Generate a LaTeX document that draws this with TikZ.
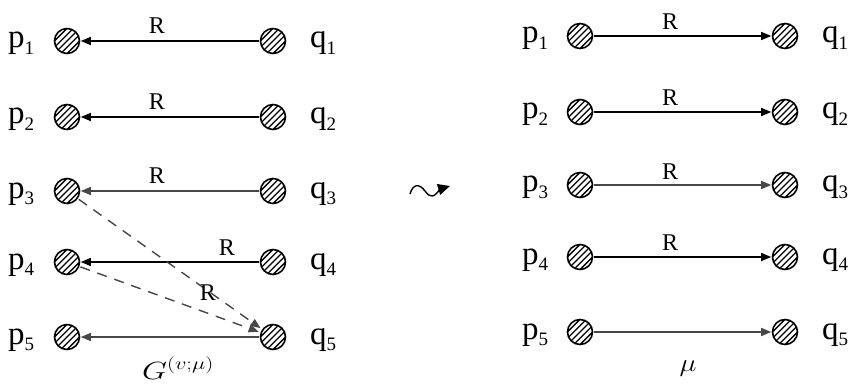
\documentclass[tikz,border=0pt]{standalone}
\usepackage{fontspec}
\setmainfont{Liberation Serif}
\usetikzlibrary{arrows.meta}
\newcommand\idx[1]{\raisebox{-0.2em}{\fontsize{19}{19}\selectfont#1}}
\tikzset{
  x=1pt, y=-1pt,
  dot/.style={circle, draw, line width=1.6pt, minimum size=25pt, inner sep=0pt,
    path picture={\foreach \k in {-3,...,3}{\draw[line width=1.3pt]
      ([shift={(\k*6.3pt-16pt,-16pt)}]path picture bounding box.center) -- ++(32pt,32pt);}}},
  vlab/.style={font=\fontsize{33}{33}\selectfont, inner sep=0pt, anchor=base west},
  rlab/.style={font=\fontsize{24}{24}\selectfont, inner sep=0pt, anchor=base},
  tip/.style={-{Triangle[length=10pt,width=8pt]}},
  link/.style={tip, line width=1.4pt, shorten >=0.5pt, shorten <=0.5pt},
  weak/.style={link, draw=black!72},
  dashlink/.style={tip, line width=1.4pt, draw=black!72, dash pattern=on 10pt off 8pt, shorten >=2pt, shorten <=1pt},
}
\begin{document}
\begin{tikzpicture}
\useasboundingbox (0,0) rectangle (852,385);

% left graph G^{(v;mu)}
\foreach \i/\y in {1/41,2/117,3/191,4/262,5/337}{
  \node[dot] (lp\i) at (67,\y) {};
  \node[dot] (lq\i) at (273,\y) {};
  \node[vlab] (lpl\i) at (8,\y+7) {p\idx{\i}};
  \node[vlab] (lql\i) at (310,\y+7) {q\idx{\i}};
}
\draw[link] (lq1) -- (lp1);
\draw[link] (lq2) -- (lp2);
\draw[weak] (lq3) -- (lp3);
\draw[link] (lq4) -- (lp4);
\draw[weak] (lq5) -- (lp5);
\draw[dashlink] (lp3) -- (lq5);
\draw[dashlink] (lp4) -- (lq5);
\node[rlab] (lr1) at (157,34) {R};
\node[rlab] (lr2) at (157,110) {R};
\node[rlab] (lr3) at (157,184) {R};
\node[rlab] (lr4) at (227,255) {R};
\node[rlab] (lrd) at (208,300) {R};
\node[inner sep=0pt, anchor=base] (gname) at (178,379)
  {\scalebox{1.3}[1]{\fontsize{27}{27}\selectfont$G^{(v;\mu)}$}};

% wavy transition arrow
\coordinate (w0) at (410,194);
\coordinate (w1) at (450,186);
\draw[line width=1.4pt, -{Triangle[length=12pt,width=11pt]}]
  (w0) .. controls (413,184) and (419,183) .. (425,191)
       .. controls (430,198) and (434,198) .. (440,189) -- (w1);

% right matching mu
\foreach \i/\y in {1/36,2/112,3/185,4/257,5/332}{
  \node[dot] (rp\i) at (580,\y) {};
  \node[dot] (rq\i) at (785,\y) {};
  \node[vlab] (rpl\i) at (522,\y+7) {p\idx{\i}};
  \node[vlab] (rql\i) at (822,\y+7) {q\idx{\i}};
}
\draw[link] (rp1) -- (rq1);
\draw[link] (rp2) -- (rq2);
\draw[weak] (rp3) -- (rq3);
\draw[link] (rp4) -- (rq4);
\draw[weak] (rp5) -- (rq5);
\node[rlab] (rr1) at (670,30) {R};
\node[rlab] (rr2) at (670,106) {R};
\node[rlab] (rr3) at (670,179) {R};
\node[rlab] (rr4) at (670,251) {R};
\node[inner sep=0pt, anchor=base] (mname) at (688,371)
  {\scalebox{1.15}[1]{\fontsize{34}{34}\selectfont$\mu$}};
\end{tikzpicture}
\end{document}
